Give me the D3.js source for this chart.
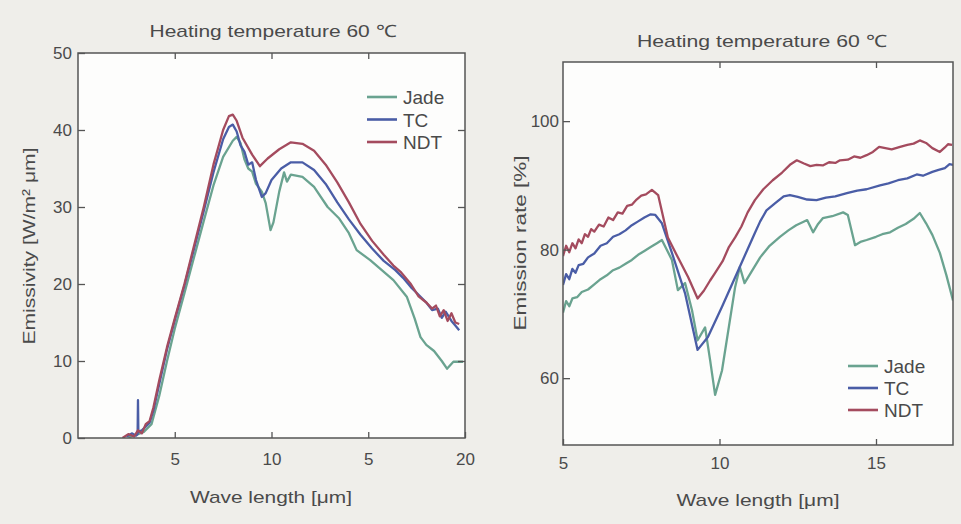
<!DOCTYPE html>
<html>
<head>
<meta charset="utf-8">
<script src="https://cdn.jsdelivr.net/npm/d3@7"></script>
<style>
  html, body { margin: 0; padding: 0; background: #efeeea; }
  svg { display: block; }
  text { font-family: "Liberation Sans", Arial, Helvetica, sans-serif; fill: #4a4a4a; }
</style>
</head>
<body>
<script>
// ---- Spectral emissivity at 60 °C, W/(m²·μm) ----
const emissivityJade = [[2.6,0.1],[3.0,0.4],[3.4,0.8],[3.8,1.8],[4.2,5.5],[4.6,10],[5.0,14.2],[5.5,18.8],[6.0,23.5],[6.5,28.2],[7.0,32.8],[7.5,36.5],[8.0,38.6],[8.2,39.1],[8.4,38.3],[8.6,36.2],[8.8,35.0],[9.0,34.6],[9.2,33.0],[9.5,32.0],[9.7,30.5],[9.95,27.0],[10.1,28.0],[10.4,32.0],[10.65,34.5],[10.8,33.3],[11.0,34.2],[11.6,33.9],[12.2,32.6],[12.9,30.0],[13.5,28.5],[14.0,26.6],[14.4,24.4],[15.1,23.1],[15.7,21.8],[16.3,20.5],[17.0,18.3],[17.4,15.5],[17.7,13.1],[18.0,12.1],[18.4,11.3],[18.8,10.0],[19.07,9.0],[19.4,9.9],[19.9,9.9]];
const emissivityTC = [[2.5,0.2],[2.8,0.6],[3.0,0.3],[3.08,0.5],[3.1,4.9],[3.12,0.8],[3.3,1.0],[3.5,1.5],[3.7,2.0],[3.9,3.6],[4.2,7.0],[4.6,11.5],[5.0,15.3],[5.5,19.8],[6.0,24.6],[6.5,29.5],[7.0,34.5],[7.5,38.8],[7.8,40.4],[8.0,40.7],[8.2,39.8],[8.4,38.0],[8.6,37.2],[8.8,35.5],[9.0,35.8],[9.2,33.5],[9.5,31.3],[9.7,31.8],[10.0,33.5],[10.5,35.0],[11.0,35.8],[11.6,35.8],[12.2,34.8],[12.8,33.0],[13.4,30.6],[14.0,28.4],[14.6,26.4],[15.2,24.6],[15.8,23.0],[16.4,21.8],[16.8,20.8],[17.2,19.6],[17.6,18.6],[18.0,17.6],[18.3,16.6],[18.6,16.8],[18.8,15.6],[19.0,16.4],[19.3,15.2],[19.5,14.6],[19.7,14.0]];
const emissivityNDT = [[2.3,0],[2.6,0.5],[2.9,0.2],[3.1,1.0],[3.3,0.6],[3.5,1.8],[3.7,2.2],[3.9,4.0],[4.2,7.5],[4.6,11.8],[5.0,15.5],[5.5,20],[6.0,25],[6.5,30],[7.0,35.5],[7.5,40],[7.8,41.8],[8.0,42],[8.2,41.2],[8.5,39],[9.0,36.8],[9.4,35.3],[9.8,36.3],[10.4,37.5],[11.0,38.4],[11.6,38.2],[12.2,37.3],[12.8,35.5],[13.4,33.2],[14.0,30.6],[14.6,27.8],[15.2,25.6],[15.8,23.8],[16.3,22.4],[16.7,21.5],[17.2,20],[17.6,18.4],[18.0,17.6],[18.3,16.8],[18.5,17.2],[18.7,15.8],[18.9,16.6],[19.1,15.2],[19.3,16.2],[19.5,15.0],[19.7,14.8]];
const emissivityXTicks = [5, 10, 15, 20];
const emissivityXTickLabels = ["5", "10", "5", "20"];
const emissivityYTicks = [0, 10, 20, 30, 40, 50];
const emissivityRightTicks = [10, 20, 30, 40];

// ---- Emission rate at 60 °C, % ----
const rateJade = [[5.0,70.2],[5.1,72.0],[5.2,71.2],[5.3,72.4],[5.45,72.6],[5.6,73.4],[5.8,73.8],[6.0,74.6],[6.2,75.4],[6.4,76.0],[6.6,76.8],[6.8,77.2],[7.0,77.8],[7.2,78.4],[7.4,79.2],[7.6,79.8],[7.8,80.4],[8.0,81.0],[8.16,81.5],[8.48,78.4],[8.67,73.7],[8.9,74.8],[9.12,70.6],[9.3,65.9],[9.54,67.9],[9.7,62.8],[9.86,57.4],[10.08,61.2],[10.5,74.2],[10.65,77.3],[10.8,74.8],[11.3,78.8],[11.6,80.6],[11.93,82.0],[12.2,83.0],[12.45,83.8],[12.67,84.3],[12.8,84.6],[12.99,82.7],[13.15,84.0],[13.3,84.9],[13.6,85.2],[13.95,85.8],[14.1,85.4],[14.33,80.7],[14.5,81.2],[14.7,81.5],[15.0,82.0],[15.2,82.4],[15.45,82.7],[15.7,83.4],[15.95,84.0],[16.2,84.8],[16.4,85.7],[16.6,84.1],[16.8,82.3],[17.04,79.5],[17.25,76.0],[17.46,72.1]];
const rateTC = [[5.0,74.5],[5.1,76.2],[5.2,75.4],[5.3,77.0],[5.4,76.4],[5.5,77.6],[5.65,77.8],[5.8,78.8],[6.0,79.4],[6.2,80.6],[6.4,81.0],[6.6,82.0],[6.8,82.4],[7.0,83.0],[7.2,83.8],[7.4,84.4],[7.6,85.0],[7.8,85.5],[7.95,85.4],[8.16,84.1],[8.48,79.5],[8.9,73.2],[9.3,64.4],[9.63,66.4],[10.08,71.1],[10.6,76.8],[11.13,82.6],[11.3,84.4],[11.5,86.1],[11.8,87.3],[12.05,88.3],[12.25,88.5],[12.5,88.2],[12.8,87.8],[13.1,87.7],[13.4,88.1],[13.7,88.3],[14.07,88.8],[14.4,89.2],[14.7,89.4],[15.13,90.0],[15.4,90.3],[15.7,90.8],[16.0,91.1],[16.3,91.7],[16.5,91.5],[16.8,92.1],[17.0,92.4],[17.2,92.7],[17.35,93.3],[17.46,93.2]];
const rateNDT = [[5.0,79.0],[5.1,80.6],[5.2,79.6],[5.3,81.0],[5.4,80.2],[5.5,81.6],[5.6,81.0],[5.7,82.4],[5.8,82.0],[5.9,83.2],[6.0,82.8],[6.15,83.9],[6.3,83.6],[6.45,85.0],[6.6,84.6],[6.75,85.8],[6.9,85.6],[7.05,86.8],[7.2,87.0],[7.35,87.8],[7.5,88.4],[7.65,88.6],[7.84,89.3],[8.04,88.5],[8.35,81.9],[8.67,78.8],[9.0,75.7],[9.3,72.4],[9.5,73.6],[9.7,75.2],[9.85,76.3],[10.1,78.2],[10.3,80.4],[10.5,81.9],[10.7,83.6],[10.9,85.8],[11.13,87.7],[11.4,89.4],[11.7,90.8],[12.0,92.0],[12.25,93.2],[12.47,93.9],[12.7,93.4],[12.9,93.0],[13.1,93.2],[13.3,93.1],[13.5,93.6],[13.7,93.5],[13.85,93.9],[14.1,94.0],[14.3,94.5],[14.5,94.3],[14.7,94.7],[14.9,95.2],[15.1,96.0],[15.3,95.8],[15.5,95.6],[15.77,96.0],[16.0,96.3],[16.2,96.5],[16.4,97.0],[16.6,96.6],[16.8,95.8],[17.04,95.2],[17.2,95.9],[17.3,96.4],[17.43,96.3]];
const rateXTicks = [5, 10, 15];
const rateYTicks = [60, 80, 100];

const seriesNames = ["Jade", "TC", "NDT"];
const seriesColors = ["#6aa390", "#4a5da6", "#a44b5e"];

const svg = d3.select("body").append("svg")
  .attr("width", 961).attr("height", 524);

function drawPanel(p) {
  const x = d3.scaleLinear().domain(p.xDomain).range([p.left, p.right]);
  const y = d3.scaleLinear().domain(p.yDomain).range([p.bottom, p.top]);
  const g = svg.append("g");

  g.append("rect")
    .attr("x", p.left).attr("y", p.top)
    .attr("width", p.right - p.left).attr("height", p.bottom - p.top)
    .attr("fill", "#fdfdfc");

  const clipId = "clip-" + p.id;
  g.append("clipPath").attr("id", clipId).append("rect")
    .attr("x", p.left).attr("y", p.top)
    .attr("width", p.right - p.left).attr("height", p.bottom - p.top);

  const line = d3.line().x(d => x(d[0])).y(d => y(d[1]));
  const plot = g.append("g").attr("clip-path", `url(#${clipId})`);
  p.series.forEach((s, i) => {
    plot.append("path")
      .datum(s)
      .attr("fill", "none")
      .attr("stroke", seriesColors[i])
      .attr("stroke-width", 2.3)
      .attr("stroke-linejoin", "round")
      .attr("d", line);
  });

  // axes: ticks point into the plot
  const axisStyle = sel => {
    sel.select(".domain").remove();
    sel.selectAll(".tick line").attr("stroke", "#555").attr("stroke-width", 1.3);
    sel.selectAll(".tick text")
      .attr("fill", "#4a4a4a")
      .style("font-family", '"Liberation Sans", Arial, sans-serif')
      .style("font-size", "17px");
  };

  g.append("g").attr("transform", `translate(0,${p.bottom})`)
    .call(d3.axisBottom(x).tickValues(p.xTicks).tickSize(-6).tickPadding(p.xPad)
      .tickFormat((d, i) => p.xTickLabels[i]))
    .call(axisStyle);

  g.append("g").attr("transform", `translate(${p.left},0)`)
    .call(d3.axisLeft(y).tickValues(p.yTicks).tickSize(-7).tickPadding(p.yPad)
      .tickFormat(d3.format("d")))
    .call(axisStyle);

  g.append("g").attr("transform", `translate(0,${p.top})`)
    .call(d3.axisTop(x).tickValues(p.topTicks).tickSize(-6).tickFormat(""))
    .call(axisStyle);

  if (p.rightTicks.length) {
    g.append("g").attr("transform", `translate(${p.right},0)`)
      .call(d3.axisRight(y).tickValues(p.rightTicks).tickSize(-7).tickFormat(""))
      .call(axisStyle);
  }

  // frame
  g.append("rect")
    .attr("x", p.left).attr("y", p.top)
    .attr("width", p.right - p.left).attr("height", p.bottom - p.top)
    .attr("fill", "none").attr("stroke", "#555").attr("stroke-width", 1.5);

  // title and axis titles
  g.append("text")
    .attr("x", p.titleX).attr("y", p.titleY)
    .attr("text-anchor", "middle").style("font-size", "17px")
    .attr("textLength", p.titleW).attr("lengthAdjust", "spacingAndGlyphs")
    .text("Heating temperature 60 ℃");

  g.append("text")
    .attr("x", p.xLabelX).attr("y", p.xLabelY)
    .attr("text-anchor", "middle").style("font-size", "17px")
    .attr("textLength", p.xLabelW).attr("lengthAdjust", "spacingAndGlyphs")
    .text("Wave length [μm]");

  g.append("text")
    .attr("transform", `translate(${p.yLabelX},${p.yLabelY}) rotate(-90)`)
    .attr("text-anchor", "middle").style("font-size", "17px")
    .attr("textLength", p.yLabelW).attr("lengthAdjust", "spacingAndGlyphs")
    .text(p.yLabel);

  // legend
  seriesNames.forEach((name, i) => {
    const ly = p.legendY + i * p.legendStep;
    g.append("line")
      .attr("x1", p.legendX).attr("x2", p.legendX + 30)
      .attr("y1", ly).attr("y2", ly)
      .attr("stroke", seriesColors[i]).attr("stroke-width", 2.6);
    g.append("text")
      .attr("x", p.legendX + 36).attr("y", ly + 7)
      .style("font-size", "19px")
      .text(name);
  });
}

drawPanel({
  id: "emissivity",
  left: 78, right: 465, top: 53, bottom: 438,
  xDomain: [0, 20], yDomain: [0, 50],
  series: [emissivityJade, emissivityTC, emissivityNDT],
  xTicks: emissivityXTicks, xTickLabels: emissivityXTickLabels,
  yTicks: emissivityYTicks, topTicks: [5, 10, 15], rightTicks: emissivityRightTicks,
  xPad: 15, yPad: 6,
  titleX: 273, titleY: 37, titleW: 247,
  xLabelX: 271, xLabelY: 503, xLabelW: 162,
  yLabelX: 35, yLabelY: 246, yLabelW: 197, yLabel: "Emissivity [W/m² μm]",
  legendX: 367, legendY: 97, legendStep: 22.5
});

drawPanel({
  id: "rate",
  left: 563, right: 953, top: 62, bottom: 445,
  xDomain: [5, 17.46], yDomain: [49.6, 109.2],
  series: [rateJade, rateTC, rateNDT],
  xTicks: rateXTicks, xTickLabels: rateXTicks.map(String),
  yTicks: rateYTicks, topTicks: [10, 15], rightTicks: [],
  xPad: 12, yPad: 4,
  titleX: 762, titleY: 47, titleW: 250,
  xLabelX: 758, xLabelY: 506, xLabelW: 163,
  yLabelX: 526, yLabelY: 243, yLabelW: 175, yLabel: "Emission rate [%]",
  legendX: 848, legendY: 366, legendStep: 22
});
</script>
</body>
</html>
